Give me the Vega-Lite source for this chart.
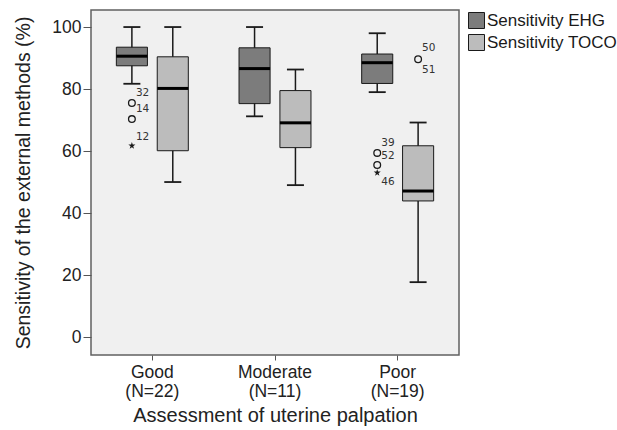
{
  "$schema": "https://vega.github.io/schema/vega-lite/v6.json",
  "width": 368,
  "height": 345,
  "padding": {"left": 13, "top": 10, "right": 0, "bottom": 0},
  "background": "white",
  "config": {
    "view": {"fill": "#f0f0f0", "stroke": "#606060", "strokeWidth": 1.5},
    "font": "Liberation Sans",
    "axis": {"grid": false, "domain": false, "tickColor": "#555555", "labelColor": "#222222", "titleColor": "#222222", "titleFontWeight": "normal"}
  },
  "datasets": {
    "boxes": [
      {"group": "Good", "method": "Sensitivity EHG", "lo": 81.7, "q1": 87.5, "med": 90.6, "q3": 93.5, "hi": 100},
      {"group": "Good", "method": "Sensitivity TOCO", "lo": 50, "q1": 60.1, "med": 80.2, "q3": 90.4, "hi": 100},
      {"group": "Moderate", "method": "Sensitivity EHG", "lo": 71.2, "q1": 75.3, "med": 86.6, "q3": 93.3, "hi": 100},
      {"group": "Moderate", "method": "Sensitivity TOCO", "lo": 49, "q1": 61.1, "med": 69.1, "q3": 79.5, "hi": 86.3},
      {"group": "Poor", "method": "Sensitivity EHG", "lo": 79, "q1": 81.8, "med": 88.5, "q3": 91.3, "hi": 98},
      {"group": "Poor", "method": "Sensitivity TOCO", "lo": 17.7, "q1": 43.9, "med": 47.1, "q3": 61.7, "hi": 69.2}
    ],
    "outliers": [
      {"group": "Good", "method": "Sensitivity EHG", "value": 75.5, "kind": "circle"},
      {"group": "Good", "method": "Sensitivity EHG", "value": 70.3, "kind": "circle"},
      {"group": "Good", "method": "Sensitivity EHG", "value": 61.7, "kind": "star"},
      {"group": "Poor", "method": "Sensitivity EHG", "value": 59.4, "kind": "circle"},
      {"group": "Poor", "method": "Sensitivity EHG", "value": 55.5, "kind": "circle"},
      {"group": "Poor", "method": "Sensitivity EHG", "value": 53, "kind": "star"},
      {"group": "Poor", "method": "Sensitivity TOCO", "value": 89.6, "kind": "circle"}
    ],
    "labels": [
      {"group": "Good", "method": "Sensitivity EHG", "pos": 78.7, "text": "32"},
      {"group": "Good", "method": "Sensitivity EHG", "pos": 73.5, "text": "14"},
      {"group": "Good", "method": "Sensitivity EHG", "pos": 64.4, "text": "12"},
      {"group": "Poor", "method": "Sensitivity EHG", "pos": 62.7, "text": "39"},
      {"group": "Poor", "method": "Sensitivity EHG", "pos": 58.5, "text": "52"},
      {"group": "Poor", "method": "Sensitivity EHG", "pos": 50.1, "text": "46"},
      {"group": "Poor", "method": "Sensitivity TOCO", "pos": 93.1, "text": "50"},
      {"group": "Poor", "method": "Sensitivity TOCO", "pos": 86.1, "text": "51"}
    ]
  },
  "encoding": {
    "x": {
      "field": "group", "type": "nominal", "sort": ["Good", "Moderate", "Poor"],
      "scale": {"paddingInner": 0, "paddingOuter": 0},
      "axis": {
        "title": "Assessment of uterine palpation", "titleFontSize": 20, "titlePadding": 6,
        "labelFontSize": 17.5, "labelAngle": 0, "labelLineHeight": 19, "tickSize": 5, "labelPadding": 3,
        "labelExpr": "datum.value == 'Good' ? ['Good','(N=22)'] : datum.value == 'Moderate' ? ['Moderate','(N=11)'] : ['Poor','(N=19)']"
      }
    },
    "xOffset": {
      "field": "method", "type": "nominal",
      "scale": {"paddingInner": 0.24, "paddingOuter": 0.62}
    }
  },
  "layer": [
    {
      "data": {"name": "boxes"},
      "mark": {"type": "rule", "color": "#1a1a1a", "strokeWidth": 1.5},
      "encoding": {
        "y": {
          "field": "lo", "type": "quantitative",
          "scale": {"domain": [-5.8, 105.5], "nice": false, "zero": false},
          "axis": {"title": "Sensitivity of the external methods (%)", "titleFontSize": 19.5, "labelFontSize": 17.5, "values": [0, 20, 40, 60, 80, 100], "tickSize": 8, "labelPadding": 2, "titlePadding": 18}
        },
        "y2": {"field": "hi"}
      }
    },
    {
      "data": {"name": "boxes"},
      "mark": {"type": "bar", "stroke": "#1a1a1a", "strokeWidth": 1},
      "encoding": {
        "y": {"field": "q1", "type": "quantitative"},
        "y2": {"field": "q3"},
        "fill": {
          "field": "method", "type": "nominal",
          "scale": {"domain": ["Sensitivity EHG", "Sensitivity TOCO"], "range": ["#7c7c7c", "#bcbcbc"]},
          "legend": {"title": null, "orient": "right", "offset": 7, "symbolType": "square", "symbolSize": 256, "symbolStrokeColor": "#1a1a1a", "symbolStrokeWidth": 1, "symbolOpacity": 1, "labelFontSize": 17, "labelColor": "#1a1a1a", "labelOffset": 2, "rowPadding": 1, "padding": 2}
        }
      }
    },
    {
      "data": {"name": "boxes"},
      "mark": {"type": "tick", "color": "#000000", "thickness": 3, "size": 31, "opacity": 1},
      "encoding": {"y": {"field": "med", "type": "quantitative"}}
    },
    {
      "data": {"name": "boxes"},
      "mark": {"type": "tick", "color": "#1a1a1a", "thickness": 1.8, "size": 17, "opacity": 1},
      "encoding": {"y": {"field": "hi", "type": "quantitative"}}
    },
    {
      "data": {"name": "boxes"},
      "mark": {"type": "tick", "color": "#1a1a1a", "thickness": 1.8, "size": 17, "opacity": 1},
      "encoding": {"y": {"field": "lo", "type": "quantitative"}}
    },
    {
      "data": {"name": "outliers"},
      "transform": [{"filter": "datum.kind == 'circle'"}],
      "mark": {"type": "point", "shape": "circle", "filled": false, "color": "#1a1a1a", "strokeWidth": 1.3, "size": 45, "opacity": 1},
      "encoding": {"y": {"field": "value", "type": "quantitative"}}
    },
    {
      "data": {"name": "outliers"},
      "transform": [{"filter": "datum.kind == 'star'"}],
      "mark": {"type": "point", "shape": "M0,-1L0.22,-0.31L0.95,-0.31L0.36,0.12L0.59,0.81L0,0.38L-0.59,0.81L-0.36,0.12L-0.95,-0.31L-0.22,-0.31Z", "filled": true, "color": "#1a1a1a", "size": 55, "opacity": 1},
      "encoding": {"y": {"field": "value", "type": "quantitative"}}
    },
    {
      "data": {"name": "labels"},
      "mark": {"type": "text", "align": "left", "baseline": "middle", "dx": 4, "fontSize": 10.5, "font": "DejaVu Sans", "color": "#333333"},
      "encoding": {"y": {"field": "pos", "type": "quantitative"}, "text": {"field": "text"}}
    }
  ]
}
